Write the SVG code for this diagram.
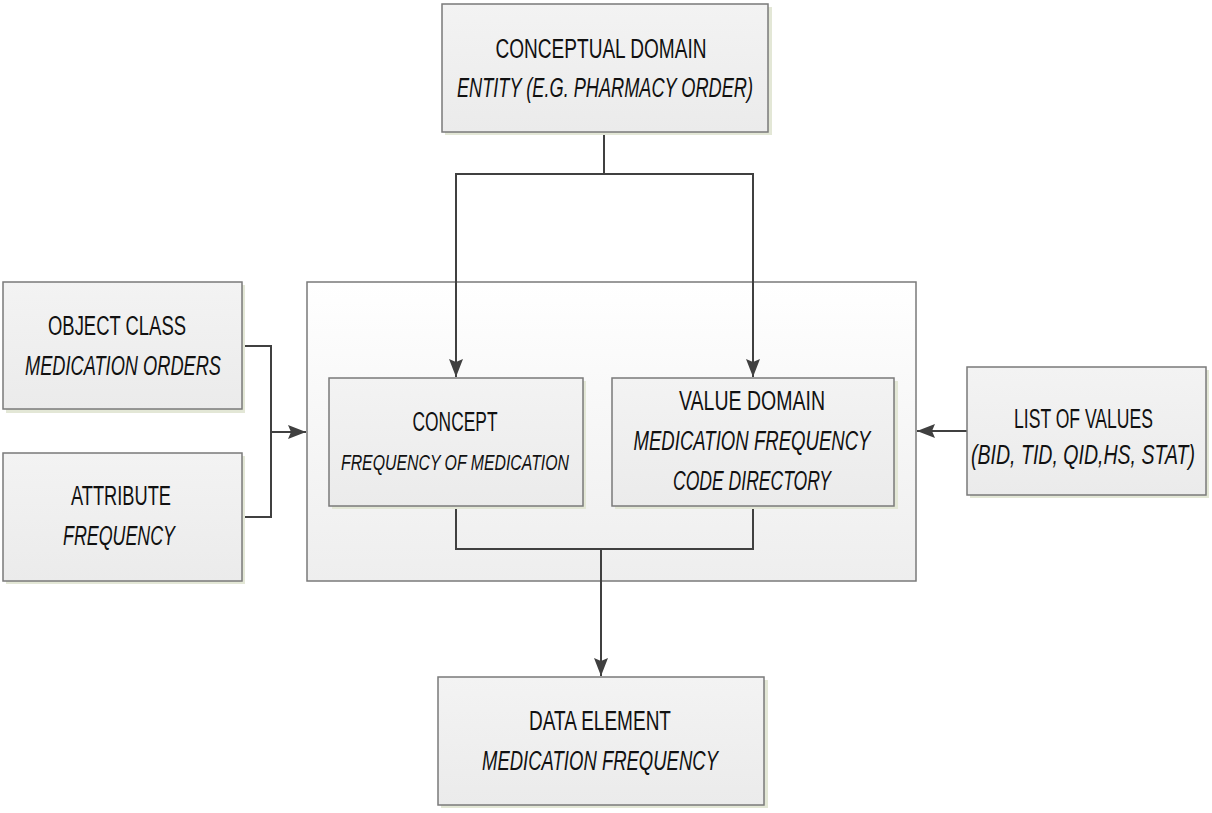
<svg xmlns="http://www.w3.org/2000/svg" width="1212" height="813" viewBox="0 0 1212 813">
<style>
.box{fill:url(#gBox);stroke:#7a7a7a;stroke-width:1.5}
.shadow{fill:#e3e7d6}
.cont{fill:url(#gCont);stroke:#7a7a7a;stroke-width:1.5}
.conn{fill:none;stroke:#404040;stroke-width:2}
.t{font-family:"Liberation Sans",Arial,sans-serif;font-size:27px;fill:#111;text-anchor:middle}
.i{font-style:italic}
.s{font-size:22px}
.e{text-anchor:end}
</style>
<defs>
<linearGradient id="gBox" x1="0" y1="0" x2="0" y2="1"><stop offset="0" stop-color="#f3f3f3"/><stop offset="1" stop-color="#ebebeb"/></linearGradient>
<linearGradient id="gCont" x1="0" y1="0" x2="0" y2="1"><stop offset="0" stop-color="#ffffff"/><stop offset="1" stop-color="#eeeeee"/></linearGradient>
<marker id="arr" markerUnits="userSpaceOnUse" viewBox="-1 -9 20 18" markerWidth="20" markerHeight="18" refX="18" refY="0" orient="auto"><path d="M0,-7 L18,0 L0,7 L3,0 Z" fill="#404040"/></marker>
</defs>

<g id="container">
<rect class="cont" x="307" y="282" width="609" height="299"/>
</g>

<g id="connectors">
<path class="conn" d="M604,132 V174 H456 V377" marker-end="url(#arr)"/>
<path class="conn" d="M604,174 H753 V377" marker-end="url(#arr)"/>
<path class="conn" d="M242,346 H271 V517 H242"/>
<path class="conn" d="M271,432 H306" marker-end="url(#arr)"/>
<path class="conn" d="M967,431 H917" marker-end="url(#arr)"/>
<path class="conn" d="M456,506 V549 H753 V506"/>
<path class="conn" d="M601,549 V676" marker-end="url(#arr)"/>
</g>

<g id="conceptual-domain">
<rect class="shadow" x="445" y="7" width="327" height="128"/>
<rect class="box" x="442" y="4" width="326" height="128"/>
<text class="t" x="601" y="58" textLength="211" lengthAdjust="spacingAndGlyphs">CONCEPTUAL DOMAIN</text>
<text class="t i" x="605" y="97" textLength="296" lengthAdjust="spacingAndGlyphs">ENTITY (E.G. PHARMACY ORDER)</text>
</g>

<g id="object-class">
<rect class="shadow" x="6" y="285" width="239" height="128"/>
<rect class="box" x="3" y="282" width="239" height="127"/>
<text class="t" x="117" y="335" textLength="138" lengthAdjust="spacingAndGlyphs">OBJECT CLASS</text>
<text class="t i" x="123" y="375" textLength="196" lengthAdjust="spacingAndGlyphs">MEDICATION ORDERS</text>
</g>

<g id="attribute">
<rect class="shadow" x="6" y="456" width="239" height="128"/>
<rect class="box" x="3" y="453" width="239" height="128"/>
<text class="t" x="121" y="505" textLength="100" lengthAdjust="spacingAndGlyphs">ATTRIBUTE</text>
<text class="t i" x="119" y="545" textLength="112" lengthAdjust="spacingAndGlyphs">FREQUENCY</text>
</g>

<g id="concept">
<rect class="shadow" x="332" y="381" width="254" height="128"/>
<rect class="box" x="329" y="378" width="254" height="128"/>
<text class="t" x="455" y="431" textLength="85" lengthAdjust="spacingAndGlyphs">CONCEPT</text>
<text class="t i s" x="455" y="470" textLength="228" lengthAdjust="spacingAndGlyphs">FREQUENCY OF MEDICATION</text>
</g>

<g id="value-domain">
<rect class="shadow" x="615" y="381" width="283" height="128"/>
<rect class="box" x="612" y="378" width="282" height="128"/>
<text class="t" x="752" y="410" textLength="146" lengthAdjust="spacingAndGlyphs">VALUE DOMAIN</text>
<text class="t i" x="752" y="450" textLength="237" lengthAdjust="spacingAndGlyphs">MEDICATION FREQUENCY</text>
<text class="t i" x="752" y="490" textLength="158" lengthAdjust="spacingAndGlyphs">CODE DIRECTORY</text>
</g>

<g id="list-of-values">
<rect class="shadow" x="970" y="370" width="239" height="128"/>
<rect class="box" x="967" y="367" width="239" height="128"/>
<text class="t e" x="1153" y="428" textLength="139" lengthAdjust="spacingAndGlyphs">LIST OF VALUES</text>
<text class="t i e" x="1195" y="464" textLength="224" lengthAdjust="spacingAndGlyphs">(BID, TID, QID,HS, STAT)</text>
</g>

<g id="data-element">
<rect class="shadow" x="441" y="680" width="327" height="128"/>
<rect class="box" x="438" y="677" width="326" height="128"/>
<text class="t" x="600" y="730" textLength="142" lengthAdjust="spacingAndGlyphs">DATA ELEMENT</text>
<text class="t i" x="600" y="770" textLength="236" lengthAdjust="spacingAndGlyphs">MEDICATION FREQUENCY</text>
</g>
</svg>
